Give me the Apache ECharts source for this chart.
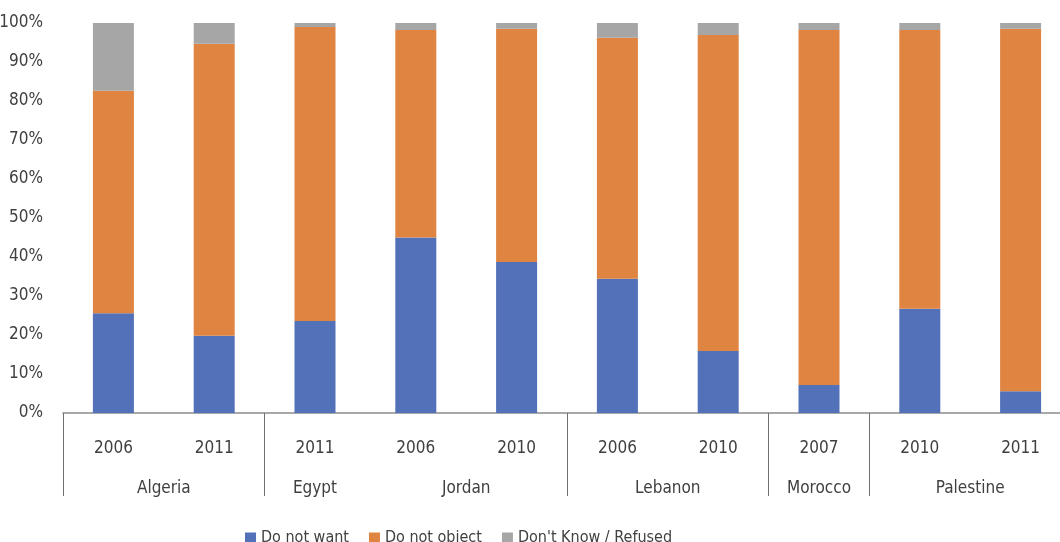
<!DOCTYPE html>
<html>
<head>
<meta charset="utf-8">
<script src="https://cdn.jsdelivr.net/npm/echarts@6/dist/echarts.min.js"></script>
<style>html,body{margin:0;padding:0;background:#fff}#c{width:1060px;height:542px}</style>
</head>
<body>
<div id="c"></div>
<script>
const years = ['2006','2011','2011','2006','2010','2006','2010','2007','2010','2011'];
const countries = ['Algeria','Egypt','Jordan','Lebanon','Morocco','Palestine'];
// group centres and boundaries in category units (category i spans [i, i+1])
const countryCentres = [1, 2.5, 4, 6, 7.5, 9];
const groupBounds = [0, 2, 5, 7, 8, 10];
const doNotWant   = [25.6, 19.8, 23.6, 45.0, 38.7, 34.4, 15.9, 7.2, 26.7, 5.6];
const doNotObject = [57.0, 74.9, 75.4, 53.2, 59.8, 61.8, 81.0, 91.0, 71.5, 92.9];
const dontKnow    = [17.4, 5.3, 1.0, 1.8, 1.5, 3.8, 3.1, 1.8, 1.8, 1.5];
const yTicks = [0,10,20,30,40,50,60,70,80,90,100];

const FONT = '"Liberation Sans Narrow","DejaVu Sans Condensed",sans-serif';
const TXT = '#404040';
const chart = echarts.init(document.getElementById('c'));
chart.setOption({
  animation: false,
  grid: { left: 63, right: -11, top: 23, bottom: 129, containLabel: false, outerBoundsMode: 'none' },
  legend: {
    left: 240, top: 525, itemWidth: 11, itemHeight: 11, itemGap: 20,
    icon: 'rect',
    textStyle: { fontFamily: FONT, fontSize: 16, color: TXT }
  },
  xAxis: [
    {
      type: 'category', data: years,
      axisLine: { show: true, lineStyle: { color: '#8c8c8c', width: 1.5 } },
      axisTick: { show: false },
      axisLabel: { margin: 27, fontFamily: FONT, fontSize: 17, color: TXT }
    },
    {
      type: 'value', min: 0, max: 10, position: 'bottom',
      axisLine: { show: false },
      splitLine: { show: false },
      axisTick: { show: true, customValues: groupBounds, length: 83, lineStyle: { color: '#6f6f6f', width: 1 } },
      axisLabel: {
        customValues: countryCentres, margin: 67,
        fontFamily: FONT, fontSize: 17, color: TXT,
        formatter: function (v) { const i = countryCentres.indexOf(v); return i >= 0 ? countries[i] : ''; }
      }
    }
  ],
  yAxis: {
    type: 'value', min: yTicks[0], max: yTicks[yTicks.length-1], interval: 10,
    axisLine: { show: false }, axisTick: { show: false }, splitLine: { show: false },
    axisLabel: { margin: 20, fontFamily: FONT, fontSize: 17, color: TXT, formatter: '{value}%' }
  },
  series: [
    { name: 'Do not want', type: 'bar', stack: 's', data: doNotWant, barWidth: 41, itemStyle: { color: '#5271b9' }, xAxisIndex: 0 },
    { name: 'Do not object', type: 'bar', stack: 's', data: doNotObject, barWidth: 41, itemStyle: { color: '#e08442' }, xAxisIndex: 0 },
    { name: "Don't Know / Refused", type: 'bar', stack: 's', data: dontKnow, barWidth: 41, itemStyle: { color: '#a5a6a5' }, xAxisIndex: 0 }
  ]
});
</script>
</body>
</html>
